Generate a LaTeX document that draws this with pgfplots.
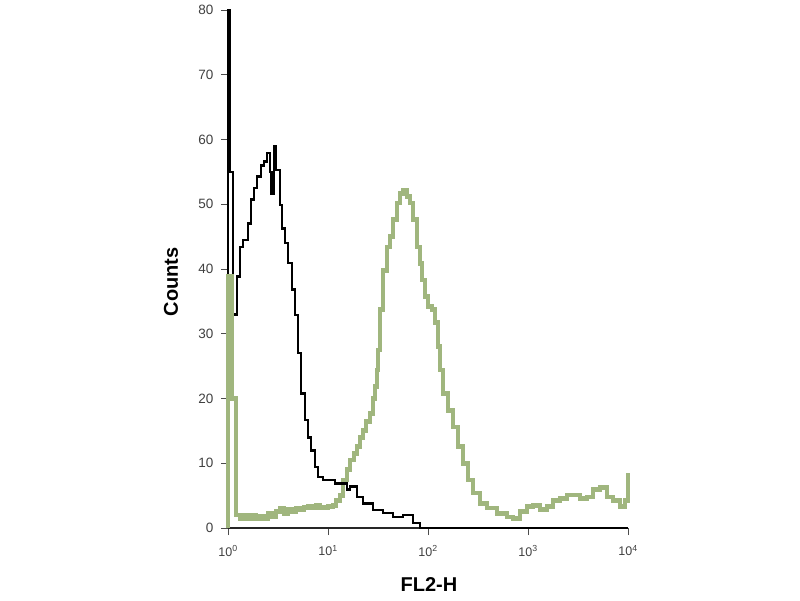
\documentclass[border=0pt]{standalone}
\usepackage{fontspec}
\setmainfont{Liberation Sans}
\usepackage{pgfplots}
\pgfplotsset{compat=1.18}
\definecolor{pegreen}{RGB}{160,182,126}
\begin{document}
\begin{tikzpicture}
\path[use as bounding box] (0,0) rectangle (800pt,600pt);
\begin{axis}[
    at={(228pt,72pt)}, anchor=south west,
    scale only axis, width=400pt, height=518pt,
    xmin=0, xmax=4, ymin=0, ymax=80,
    axis lines=left,
    axis line style={-, line width=1.4pt, black!85},
    clip=false,
    tick align=outside,
    major tick length=7pt,
    tick style={line width=0.9pt, black!70},
    xtick={0,1,2,3,4},
    xticklabels={10\textsuperscript{0},10\textsuperscript{1},10\textsuperscript{2},10\textsuperscript{3},10\textsuperscript{4}},
    ytick={0,10,...,80},
    /pgf/number format/assume math mode=true,
    xticklabel style={font=\fontsize{12.5}{12.5}\selectfont, text=black!75, yshift=-7pt},
    yticklabel style={font=\fontsize{13.5}{13.5}\selectfont, text=black!75, xshift=-4pt},
    xlabel={FL2-H},
    ylabel={Counts},
    xlabel style={font=\fontsize{20}{20}\selectfont\bfseries, at={(axis description cs:0.5025,-0.11)}, anchor=center},
    ylabel style={font=\fontsize{20}{20}\selectfont\bfseries, at={(axis description cs:-0.1425,0.475)}, anchor=center},
]
% stained sample (green)
\addplot[const plot, pegreen, line width=4.8pt] coordinates {
(0,0) (0,38.8) (0.04,20) (0.08,2) (0.12,1.5) (0.16,2) (0.2,1.5) (0.24,2)
(0.28,1.5) (0.32,1.8) (0.36,1.5) (0.40,2.3) (0.44,1.8) (0.48,2.5) (0.52,3)
(0.56,2.3) (0.60,2.8) (0.64,2.5) (0.68,3) (0.72,2.8) (0.76,3.2) (0.80,3.3)
(0.84,3.2) (0.88,3.5) (0.92,3.2) (1.00,3.3) (1.05,3.5) (1.08,4.3) (1.12,5)
(1.15,7.4) (1.19,9) (1.22,10.5) (1.26,11.5) (1.29,12.6) (1.32,14) (1.35,15)
(1.38,16.5) (1.42,17.7) (1.45,20) (1.47,21.8) (1.49,24.4) (1.50,27.5)
(1.52,33.7) (1.55,39.8) (1.59,43.4) (1.62,45) (1.65,47.6) (1.69,50.2)
(1.72,51.7) (1.75,52.2) (1.79,51.2) (1.82,50.2) (1.85,47.6) (1.89,43.4)
(1.92,40.9) (1.94,38.3) (1.97,35.7) (2.00,34.2) (2.04,33.7) (2.07,31.7)
(2.10,28) (2.12,24.4) (2.15,20.8) (2.20,18.2) (2.25,15.6) (2.30,12.6)
(2.35,10) (2.40,7.4) (2.45,5.4) (2.52,3.8) (2.59,3.1) (2.69,2.3) (2.79,1.7)
(2.85,1.5) (2.92,2.5) (2.99,3.3) (3.05,3.5) (3.12,2.8) (3.19,3.3) (3.25,4.3)
(3.32,4.6) (3.39,5.1) (3.45,5.1) (3.52,4.6) (3.59,4.8) (3.65,5.9) (3.72,6.2)
(3.79,4.8) (3.85,4.3) (3.92,3.3) (3.97,4.3) (4.0,8.5)
};
% isotype control (black)
\addplot[const plot, black, line width=2.6pt] coordinates {
(0,0) (0,80) (0.02,55) (0.05,33) (0.09,38.8) (0.12,43.4) (0.15,44.5)
(0.20,47) (0.23,50.7) (0.26,52.5) (0.29,54.3) (0.33,56) (0.36,56.6)
(0.39,57.9) (0.42,55) (0.435,51.7) (0.46,58.9) (0.48,55.3) (0.52,49.9)
(0.54,46.3) (0.57,44) (0.60,40.9) (0.64,36.8) (0.67,32.9) (0.70,27)
(0.73,20.8) (0.77,16.7) (0.80,14) (0.83,12) (0.87,9.4) (0.90,7.9)
(0.95,7.4) (1.07,6.9) (1.19,5.9) (1.22,6.4) (1.29,4.8) (1.35,3.8)
(1.45,2.8) (1.55,2.3) (1.65,1.7) (1.75,2) (1.85,0.8) (1.92,0) (4.0,0)
};
% first channels of the green trace lie over the black one
\addplot[const plot, pegreen, line width=4.8pt] coordinates {
(0,0) (0,38.8) (0.04,20) (0.08,2)
};
\end{axis}
\end{tikzpicture}
\end{document}
